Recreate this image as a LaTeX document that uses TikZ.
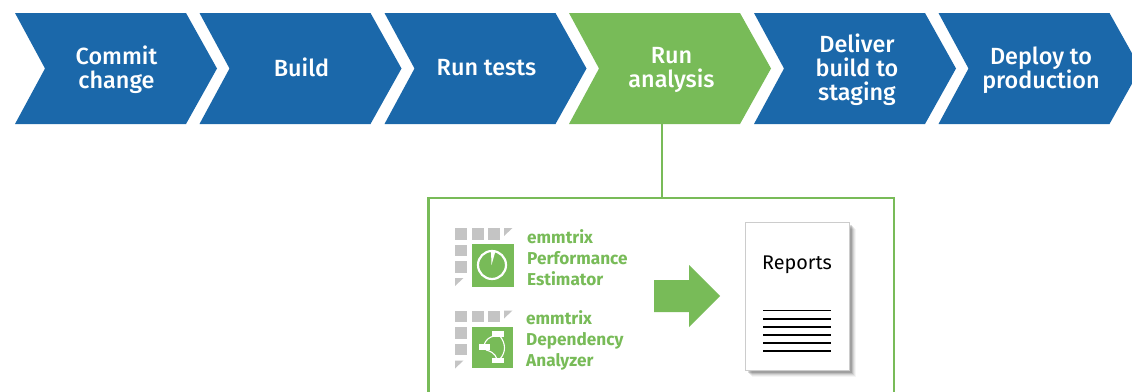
\documentclass[tikz,border=0pt]{standalone}
\usepackage{fontspec}
\setmainfont{Fira Sans Medium}[BoldFont={Fira Sans Bold}]
\newfontfamily\repfont{Fira Sans}
\definecolor{cblue}{HTML}{1B68AA}
\definecolor{cgreen}{HTML}{78BB58}
\definecolor{cgray}{HTML}{C4C4C4}
\tikzset{
  x=1pt,y=-1pt,
  steptext/.style={text=white,align=center,font=\fontsize{23.4}{24}\selectfont,inner sep=0pt},
  prodtext/.style={text=cgreen,align=left,anchor=west,font=\fontsize{17.2}{20.7}\selectfont\bfseries,inner sep=0pt},
  tile/.style={fill=cgray,draw=none},
  thinlink/.style={draw=cgreen,line width=2.2pt},
  icon/.style={fill=cgreen,draw=none},
  glyph/.style={draw=white,line width=2.2pt,fill=none},
  glyphbox/.style={fill=white,draw=none},
  ruled/.style={draw=black,line width=1.5pt},
}
\newcommand{\chev}[2]{\fill[#2] (#1,13) -- (#1+171,13) -- (#1+202,68.5) -- (#1+171,124) -- (#1,124) -- (#1+30,68.5) -- cycle;}
\newcommand{\tiles}[2]{%
  \foreach \dx in {0,16.5,33} \fill[tile] (#1+\dx,#2) rectangle ++(12,11.5);
  \fill[tile] (#1+49,#2) -- (#1+57.5,#2) -- (#1+49,#2+8) -- cycle;
  \foreach \dy in {16.5,33} \fill[tile] (#1,#2+\dy) rectangle ++(12,11.5);
  \fill[tile] (#1,#2+50) -- (#1+8.5,#2+50) -- (#1,#2+58) -- cycle;
}
\begin{document}
\begin{tikzpicture}
\useasboundingbox (0,0) rectangle (1132,391);
\clip (0,0) rectangle (1132,391);
\fill[white] (0,0) rectangle (1132,391);
\chev{15}{cblue}
\chev{199.5}{cblue}
\chev{384.5}{cblue}
\chev{569}{cgreen}
\chev{754}{cblue}
\chev{938.5}{cblue}
\node[steptext] (s1) at (116.5,70) {Commit\\change};
\node[steptext] (s2) at (301.5,67) {Build};
\node[steptext] (s3) at (486.5,67.5) {Run tests};
\node[steptext] (s4) at (671.5,70) {Run\\analysis};
\node[steptext] (s5) at (857,70) {Deliver\\build to\\staging};
\node[steptext] (s6) at (1041,70) {Deploy to\\production};
\coordinate (s4foot) at (662,124);
% outer frame, its lower side lies below the picture edge
\node[draw=cgreen,line width=2.2pt,minimum width=465.5pt,minimum height=230pt,inner sep=0pt,anchor=north west] (frame) at (427.4,196.9) {};
\draw[thinlink] (s4foot) -- (s4foot |- frame.north);
% first product
\tiles{455}{228}
\fill[icon] (472,244) rectangle (513.5,286.5);
\draw[glyph] (492,265) circle (14);
\fill[white] (491.5,265) -- (491,250.5) -- (495.5,251) -- cycle;
\node[prodtext] (p1) at (527,257.5) {emmtrix\\Performance\\Estimator};
% second product
\tiles{455}{310.5}
\fill[icon] (472,327) rectangle (513,368);
\draw[white,line width=1.1pt] (484,345) .. controls (486,339) and (490,337) .. (494,336);
\draw[white,line width=1.1pt] (486,350) .. controls (490,351) and (495,353) .. (497,359);
\draw[white,line width=1.1pt] (500,336) .. controls (506,344) and (506,352) .. (500,359);
\fill[glyphbox] (491.7,330.7) rectangle (504.3,337.3);
\fill[glyphbox] (479,344.3) rectangle (490,350.3);
\fill[glyphbox] (491.7,357.7) rectangle (504,363.3);
\node[prodtext] (p2) at (526,340.5) {emmtrix\\Dependency\\Analyzer};
% big arrow
\fill[cgreen] (654,280) -- (689,280) -- (689,265) -- (720,296) -- (689,327) -- (689,312) -- (654,312) -- cycle;
% report page
\foreach \o/\a in {7/.04,6/.06,5/.08,4/.11,3/.14}
  \fill[black,opacity=\a] (745+\o,222+\o) rectangle (849+\o,370+\o);
\node[draw=black!20,line width=1pt,fill=white,minimum width=104pt,minimum height=148pt,inner sep=0pt,anchor=north west] (page) at (744.5,221.5) {};
\node[inner sep=0pt,font=\repfont\fontsize{19.8}{20}\selectfont] (rep) at (797,265) {Reports};
\foreach \yy in {310.7,318.8,326.8,334.8,342.9,351}
  \draw[ruled] (763,\yy) -- (831,\yy);
\end{tikzpicture}
\end{document}
